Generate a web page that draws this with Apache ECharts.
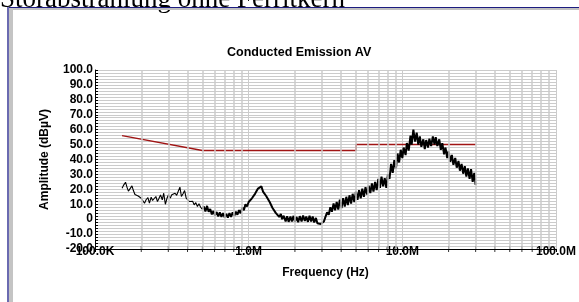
<!DOCTYPE html>
<html>
<head>
<meta charset="utf-8">
<title>Conducted Emission AV</title>
<script src="https://cdn.jsdelivr.net/npm/echarts@6/dist/echarts.min.js"></script>
<style>
  html, body { margin: 0; padding: 0; background: #fff; }
  #chart { width: 579px; height: 302px; }
</style>
</head>
<body>
<div id="chart"></div>
<script>
// measured trace (MHz / dBuV)
const freqMHz = [
  0.150, 0.154, 0.158, 0.162, 0.165, 0.169, 0.174, 0.178, 0.182, 0.187, 0.191, 0.196,
  0.200, 0.205, 0.210, 0.215, 0.221, 0.226, 0.232, 0.237, 0.243, 0.249, 0.255, 0.261,
  0.267, 0.274, 0.280, 0.287, 0.294, 0.301, 0.309, 0.316, 0.324, 0.332, 0.340, 0.348,
  0.357, 0.365, 0.374, 0.383, 0.392, 0.402, 0.412, 0.422, 0.432, 0.442, 0.453, 0.464,
  0.475, 0.487, 0.499,
  0.511, 0.523, 0.536, 0.549, 0.562, 0.576, 0.590, 0.604, 0.619, 0.634, 0.649, 0.665,
  0.681, 0.698, 0.715, 0.732, 0.750, 0.768, 0.787, 0.806, 0.825, 0.845, 0.866, 0.887,
  0.909, 0.931, 0.953, 0.976,
  1.00, 1.02, 1.05, 1.07, 1.10, 1.13, 1.15, 1.18, 1.21, 1.24, 1.27, 1.30, 1.33, 1.37,
  1.40, 1.43, 1.47, 1.50, 1.54, 1.58, 1.62, 1.65, 1.69, 1.74, 1.78, 1.82, 1.87, 1.91,
  1.96, 2.00, 2.05, 2.10, 2.15, 2.21, 2.26, 2.32, 2.37, 2.43, 2.49, 2.55, 2.61, 2.67,
  2.74, 2.80, 2.87, 2.94, 3.01, 3.09, 3.16, 3.24, 3.32, 3.40, 3.48, 3.57, 3.65, 3.74,
  3.83, 3.92, 4.02, 4.12, 4.22, 4.32, 4.42, 4.53, 4.64, 4.75, 4.87, 4.99, 5.11, 5.23,
  5.36, 5.49, 5.62, 5.76, 5.90, 6.04, 6.19, 6.34, 6.49, 6.65, 6.81, 6.98, 7.15, 7.32,
  7.50, 7.68, 7.87, 8.06, 8.25, 8.45, 8.66, 8.87, 9.09, 9.31, 9.53, 9.76,
  10.0, 10.2, 10.5, 10.7, 11.0, 11.3, 11.5, 11.8, 12.1, 12.4, 12.7, 13.0, 13.3, 13.7,
  14.0, 14.3, 14.7, 15.0, 15.4, 15.8, 16.2, 16.5, 16.9, 17.4, 17.8, 18.2, 18.7, 19.1,
  19.6, 20.0, 20.5, 21.0, 21.5, 22.1, 22.6, 23.2, 23.7, 24.3, 24.9, 25.5, 26.1, 26.7,
  27.4, 28.0, 28.7, 29.4, 30.0
]
const ampDbuV = [
  20.8, 23, 24.8, 21, 18.8, 20, 22.3, 19, 16.5, 16, 15.5, 15.2,
  14, 14.8, 10.7, 13, 14.5, 10.7, 14.8, 12.5, 11.8, 15.2, 11.8, 14,
  16.3, 13, 17.4, 10, 14, 16.3, 14.1, 16.3, 15.2, 17.4, 16, 15.2,
  21.5, 15.2, 17, 19.2, 14.1, 14.8, 11.8, 13, 12, 9.6, 11.1, 8.5,
  10.3, 8, 6.7,
  8.5, 5.1, 8.9, 5, 6.8, 3.2, 5.5, 2.5, 4.8, 1.8, 4.5, 1.5,
  4, 1.2, 3.5, 1, 4, 1.5, 4.5, 2.2, 5, 3, 6, 4,
  7.8, 6, 10, 8.5,
  11.5, 10.5, 14, 13.5, 17, 17.5, 20.5, 20.2, 22, 18.5, 19.5, 15.5, 16, 11.5,
  11.5, 7.5, 8, 4.2, 5, 1.5, 3.5, 0, 2.3, -1.5, 2, -1.8, 1.8, -1.5,
  2.2, -1.8, 1.5, -2, 2, -1.5, 2.4, -1.2, 1.8, -1.8, 2.2, -1.5, 1.8, -2.2,
  0.8, -2.8, -1.5, -3.2, -4.2, -1.5, 1.5, 4.5, 3, 8, 5, 10.5, 6, 11.5,
  6.5, 13, 7.5, 14, 8.5, 15, 9.5, 16, 10.5, 17, 11.5, 18.5, 13, 19.5,
  14, 20.5, 15, 21.5, 16.5, 22.5, 17.5, 24, 18.5, 25, 19.5, 27, 21, 28.5,
  22, 27.5, 21, 30, 27, 37, 31, 39.5, 34, 44, 38, 46.5,
  41, 48, 43, 51, 46, 56, 50, 60, 52, 58, 50, 55.5, 48.5, 53.5,
  47, 53, 48, 54, 49, 55.5, 50, 55, 49, 53.5, 46.5, 51, 43.5, 48,
  41, 45.5, 38.5, 43, 36.5, 41, 34.5, 39, 32.5, 37, 30.5, 35.5, 28.5, 34,
  27, 33.5, 25, 31, 23
]
// sweep sections are drawn with different stroke widths (sparse / dense part)
const denseFromIndex = 50

// EN 55022 class B average limit
const limitFreqMHz = [0.15, 0.5, 5, 5, 30]
const limitDbuV = [56, 46, 46, 50, 50]

// log grid lines between decades
const minorGridMHz = [
  0.2, 0.3, 0.4, 0.5, 0.6, 0.7, 0.8, 0.9,
  2, 3, 4, 5, 6, 7, 8, 9,
  20, 30, 40, 50, 60, 70, 80, 90
]

const xTickLabels = ['100.0K', '1.0M', '10.0M', '100.0M']
const yTickLabels = ['-20.0', '-10.0', '0', '10.0', '20.0', '30.0', '40.0', '50.0', '60.0', '70.0', '80.0', '90.0', '100.0']

const font = 'Liberation Sans'
const gridColor = '#cbcbcb'

const trace = freqMHz.map((f, i) => [f, ampDbuV[i]])

const chart = echarts.init(document.getElementById('chart'), null, { renderer: 'canvas' })

chart.setOption({
  animation: false,
  backgroundColor: '#ffffff',
  title: {
    text: 'Conducted Emission AV',
    left: 227,
    top: 46,
    padding: 0,
    textStyle: { fontFamily: font, fontWeight: 'bold', fontSize: 12.5, color: '#000' }
  },
  grid: { left: 95, right: 21, top: 70, bottom: 53 },
  xAxis: {
    type: 'log',
    logBase: 10,
    min: 0.1,
    max: 100,
    name: 'Frequency (Hz)',
    nameLocation: 'middle',
    nameGap: 18,
    nameTextStyle: { fontFamily: font, fontWeight: 'bold', fontSize: 12, color: '#000' },
    axisLine: { onZero: false, lineStyle: { color: '#000', width: 1 } },
    axisTick: { show: true, inside: false, length: 3, lineStyle: { color: '#000' } },
    axisLabel: {
      margin: -3,
      showMaxLabel: true,
      showMinLabel: true,
      fontFamily: font,
      fontWeight: 'bold',
      fontSize: 12,
      color: '#000',
      formatter: (v, i) => xTickLabels[i]
    },
    splitLine: { show: true, lineStyle: { color: gridColor, width: 1 } }
  },
  yAxis: {
    type: 'value',
    min: -20,
    max: 100,
    interval: 10,
    name: 'Amplitude (dBµV)',
    nameLocation: 'middle',
    nameGap: 44,
    nameRotate: 90,
    nameTextStyle: { fontFamily: font, fontWeight: 'bold', fontSize: 12, color: '#000' },
    axisLine: { show: true, onZero: false, lineStyle: { color: '#000', width: 1 } },
    axisTick: { show: true, inside: true, length: 3, lineStyle: { color: '#000' } },
    minorTick: { show: true, splitNumber: 5, length: 3, lineStyle: { color: '#000' } },
    axisLabel: {
      margin: 2,
      fontFamily: font,
      fontWeight: 'bold',
      fontSize: 12,
      color: '#000',
      formatter: (v, i) => yTickLabels[i]
    },
    splitLine: { show: true, lineStyle: { color: gridColor, width: 1 } },
    minorSplitLine: { show: true, lineStyle: { color: gridColor, width: 1 } }
  },
  series: [
    {
      // minor ticks on the frequency axis + vertical grid lines
      type: 'scatter',
      z: 1,
      silent: true,
      symbol: 'rect',
      symbolSize: [1, 6],
      itemStyle: { color: '#000' },
      data: minorGridMHz.map(f => [f, -20]),
      markLine: {
        silent: true,
        symbol: 'none',
        label: { show: false },
        lineStyle: { color: gridColor, type: 'solid', width: 1.5 },
        data: minorGridMHz.map(f => ({ xAxis: f }))
      }
    },
    {
      name: 'Limit',
      type: 'line',
      z: 3,
      symbol: 'none',
      lineStyle: { color: '#a01414', width: 1.5 },
      data: limitFreqMHz.map((f, i) => [f, limitDbuV[i]])
    },
    {
      name: 'AV',
      type: 'line',
      z: 4,
      symbol: 'none',
      lineStyle: { color: '#000', width: 1.1 },
      data: trace.slice(0, denseFromIndex + 1)
    },
    {
      name: 'AV',
      type: 'line',
      z: 4,
      symbol: 'none',
      lineStyle: { color: '#000', width: 2 },
      data: trace.slice(denseFromIndex)
    }
  ],
  graphic: [
    {
      type: 'text',
      left: 0,
      top: -14,
      z: 10,
      style: { text: 'Störabstrahlung ohne Ferritkern', fontFamily: 'Liberation Serif', fontSize: 27, fill: '#000' }
    },
    { type: 'rect', z: 11, shape: { x: 7, y: 7, width: 572, height: 1 }, style: { fill: '#1c1c80' } },
    { type: 'rect', z: 11, shape: { x: 9, y: 8, width: 570, height: 2 }, style: { fill: '#c0c0c0' } },
    { type: 'rect', z: 11, shape: { x: 7, y: 7, width: 2, height: 295 }, style: { fill: '#6a6ab0' } },
    { type: 'rect', z: 11, shape: { x: 9, y: 8, width: 4, height: 294 }, style: { fill: '#c4c4c4' } }
  ]
})
</script>
</body>
</html>
